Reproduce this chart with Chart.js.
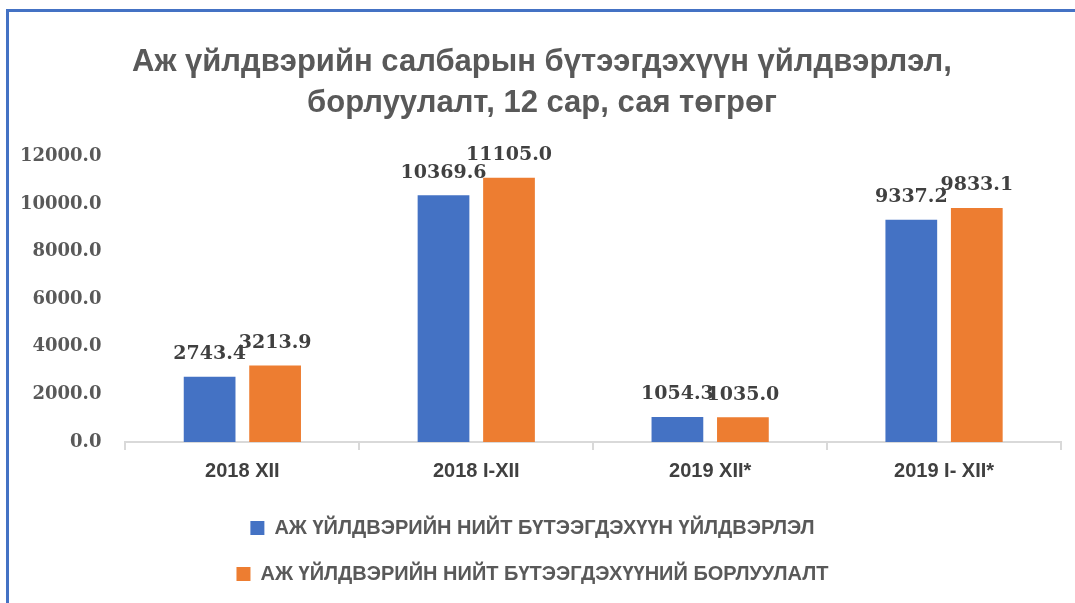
<!DOCTYPE html>
<html>
<head>
<meta charset="utf-8">
<script src="https://cdn.jsdelivr.net/npm/chart.js@4.4.0/dist/chart.umd.min.js"></script>
<style>
  html, body { margin: 0; padding: 0; background: #fff; }
  #wrap { position: relative; width: 1075px; height: 603px; overflow: hidden; }
  #frame {
    position: absolute; left: 6px; top: 9px; width: 1200px; height: 700px;
    border-top: 3px solid #4472C4; border-left: 3px solid #4472C4;
    pointer-events: none;
  }
  canvas { position: absolute; left: 0; top: 0; }
</style>
</head>
<body>
<div id="wrap">
  <canvas id="chart" width="1075" height="603"></canvas>
  <div id="frame"></div>
</div>
<script>
const categories = ["2018 XII", "2018 I-XII", "2019 XII*", "2019 I- XII*"]
const production = [2743.4, 10369.6, 1054.3, 9337.2]
const sales = [3213.9, 11105.0, 1035.0, 9833.1]
const seriesNames = [
  "АЖ ҮЙЛДВЭРИЙН НИЙТ БҮТЭЭГДЭХҮҮН ҮЙЛДВЭРЛЭЛ",
  "АЖ ҮЙЛДВЭРИЙН НИЙТ БҮТЭЭГДЭХҮҮНИЙ БОРЛУУЛАЛТ"
]
const titleLines = [
  "Аж үйлдвэрийн салбарын бүтээгдэхүүн үйлдвэрлэл,",
  "борлуулалт, 12 сар, сая төгрөг"
]

const sansFont = "'Liberation Sans', Arial, sans-serif"
const titleFont = { family: sansFont, size: 31, weight: "bold", lineHeight: 1.33 }

// Draw value labels above each bar (no datalabels plugin available offline)
const valueLabels = {
  id: "valueLabels",
  afterDatasetsDraw(chart) {
    const ctx = chart.ctx
    ctx.save()
    ctx.font = "bold 19px 'DejaVu Serif'"
    ctx.fillStyle = "#404040"
    ctx.textAlign = "center"
    ctx.textBaseline = "bottom"
    chart.data.datasets.forEach((ds, i) => {
      chart.getDatasetMeta(i).data.forEach((bar, j) => {
        ctx.fillText(ds.data[j].toFixed(1), bar.x, bar.y - 13)
      })
    })
    ctx.restore()
  }
}

// Title text centred within the blue frame (the built-in title keeps the space)
const frameTitle = {
  id: "frameTitle",
  afterDraw(chart) {
    const block = chart.titleBlock
    const ctx = chart.ctx
    const lh = titleFont.size * titleFont.lineHeight
    ctx.save()
    ctx.font = `bold ${titleFont.size}px ${titleFont.family}`
    ctx.fillStyle = "#595959"
    ctx.textAlign = "center"
    ctx.textBaseline = "middle"
    titleLines.forEach((line, i) => {
      ctx.fillText(line, (chart.width + 9) / 2, block.top + lh * (i + 0.5))
    })
    ctx.restore()
  }
}

new Chart(document.getElementById("chart"), {
  type: "bar",
  data: {
    labels: categories,
    datasets: [
      {
        label: seriesNames[0],
        data: production,
        backgroundColor: "#4472C4",
        barPercentage: 0.79,
        categoryPercentage: 0.56
      },
      {
        label: seriesNames[1],
        data: sales,
        backgroundColor: "#ED7D31",
        barPercentage: 0.79,
        categoryPercentage: 0.56
      }
    ]
  },
  options: {
    responsive: false,
    animation: false,
    layout: {
      padding: { left: 4, right: 14, top: 42, bottom: 9 }
    },
    plugins: {
      title: {
        display: true,
        text: titleLines,
        color: "rgba(0,0,0,0)",
        font: titleFont,
        padding: { top: 0, bottom: 32 }
      },
      legend: {
        position: "bottom",
        labels: {
          color: "#595959",
          font: { family: sansFont, size: 20, weight: "bold" },
          boxWidth: 14,
          boxHeight: 14,
          padding: 26
        }
      },
      tooltip: { enabled: false }
    },
    scales: {
      x: {
        grid: {
          drawOnChartArea: false,
          drawTicks: true,
          tickLength: 8,
          color: "#d9d9d9",
          lineWidth: 2
        },
        border: { color: "#d9d9d9", width: 2 },
        ticks: {
          color: "#404040",
          font: { family: sansFont, size: 20, weight: "bold" },
          padding: 9
        }
      },
      y: {
        min: 0,
        max: 12000,
        grid: { display: false },
        border: { display: false },
        ticks: {
          stepSize: 2000,
          color: "#595959",
          padding: 16,
          font: { family: "'DejaVu Serif', serif", size: 18, weight: "bold" },
          callback: v => v.toFixed(1)
        }
      }
    }
  },
  plugins: [valueLabels, frameTitle]
})
</script>
</body>
</html>
